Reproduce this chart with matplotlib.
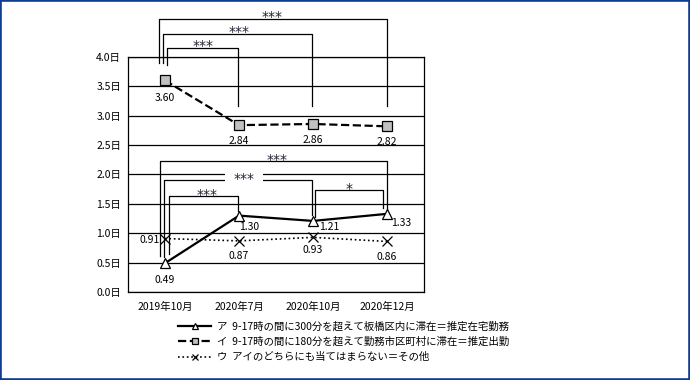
import matplotlib
matplotlib.use("Agg")
import matplotlib.pyplot as plt
from matplotlib.patches import Rectangle

plt.rcParams["font.family"] = ["Noto Sans CJK JP", "DejaVu Sans"]

# data
periods = ["2019年10月", "2020年7月", "2020年10月", "2020年12月"]
home = [0.49, 1.30, 1.21, 1.33]       # ア 推定在宅勤務
office = [3.60, 2.84, 2.86, 2.82]     # イ 推定出勤
other = [0.91, 0.87, 0.93, 0.86]      # ウ その他
labels = [
    "ア  9-17時の間に300分を超えて板橋区内に滞在＝推定在宅勤務",
    "イ  9-17時の間に180分を超えて勤務市区町村に滞在＝推定出勤",
    "ウ  アイのどちらにも当てはまらない＝その他",
]
yticks = [0.0, 0.5, 1.0, 1.5, 2.0, 2.5, 3.0, 3.5, 4.0]

FS = 7.5
BLUE = "#0d3b8f"
STAR = "#222233"

fig = plt.figure(figsize=(6.9, 3.8), dpi=100)
fig.patches.append(Rectangle((0, 0), 1, 1, transform=fig.transFigure,
                             fill=False, ec=BLUE, lw=2.6, zorder=10))
ax = fig.add_axes([0.1855, 0.2316, 0.429, 0.6184])
x = list(range(len(periods)))

ax.set_xlim(-0.5, 3.5)
ax.set_ylim(0, 4.0)
ax.set_yticks(yticks)
ax.set_yticklabels([f"{v:.1f}日" for v in yticks], fontsize=FS)
ax.set_xticks(x)
ax.set_xticklabels(periods, fontsize=FS)
ax.tick_params(length=0)
ax.tick_params(axis="y", pad=5)
ax.tick_params(axis="x", pad=7)
ax.grid(axis="y", color="black", lw=0.9)
ax.set_axisbelow(True)
for s in ax.spines.values():
    s.set_color("black")
    s.set_linewidth(0.9)

l1, = ax.plot(x, home, "-", color="black", lw=1.6, marker="^", ms=7,
              mfc="white", mec="black", mew=0.9, zorder=4)
l2, = ax.plot(x, office, "--", color="black", lw=1.6, marker="s", ms=6.5,
              mfc="#c0c0c0", mec="black", mew=0.9, zorder=4)
l3, = ax.plot(x, other, ":", color="black", lw=1.2, marker="x", ms=7,
              mec="black", mew=0.9, zorder=4)


def lab(i, v, dx, dy, ha="center"):
    ax.annotate(f"{v:.2f}", (i, v), xytext=(dx, dy), textcoords="offset points",
                ha=ha, va="center", fontsize=FS, zorder=5)


lab(0, office[0], 0, -12.5)
for i in (1, 2, 3):
    lab(i, office[i], 0, -11.5)
lab(0, home[0], 0, -12)
lab(1, home[1], 7, -8.5)
lab(2, home[2], 11.5, -4.5)
lab(3, home[3], 10, -6.5)
lab(0, other[0], -3.5, -1.2, ha="right")
lab(1, other[1], 0, -11)
lab(2, other[2], 0, -9)
lab(3, other[3], 0, -11.5)


def bracket(x1, x2, ytop, y1, y2, text, tx=None, box=False):
    ax.plot([x1, x1, x2, x2], [y1, ytop, ytop, y2], color="black", lw=0.9,
            clip_on=False, zorder=3)
    tx = (x1 + x2) / 2 if tx is None else tx
    kw = dict(bbox=dict(fc="white", ec="none",
                        boxstyle="square,pad=0.6")) if box else {}
    ax.text(tx, ytop - 0.045, text, ha="center", va="baseline", fontsize=10,
            family="DejaVu Sans", color=STAR, clip_on=False, zorder=6, **kw)


# significance brackets, イ (upper)
bracket(-0.077, 3.0, 4.65, 3.90, 3.16, "***", tx=1.45)
bracket(-0.027, 1.98, 4.40, 3.90, 3.17, "***", tx=1.0)
bracket(0.023, 0.99, 4.16, 3.86, 3.16, "***", tx=0.52)
# significance brackets, ア (lower)
bracket(-0.064, 3.0, 2.23, 0.62, 1.39, "***", tx=1.52)
bracket(-0.018, 1.98, 1.90, 0.60, 1.31, "***", tx=1.07, box=True)
bracket(0.054, 0.99, 1.63, 0.64, 1.38, "***", tx=0.57)
bracket(2.027, 2.95, 1.73, 1.28, 1.43, "*")

fig.legend([l1, l2, l3], labels, loc="upper left",
           bbox_to_anchor=(0.258, 0.155), frameon=False,
           fontsize=FS, handlelength=3.2, handletextpad=0.5, markerscale=0.6,
           labelspacing=0.5, borderpad=0, borderaxespad=0)

fig.savefig("out.png", dpi=100, facecolor="white")
